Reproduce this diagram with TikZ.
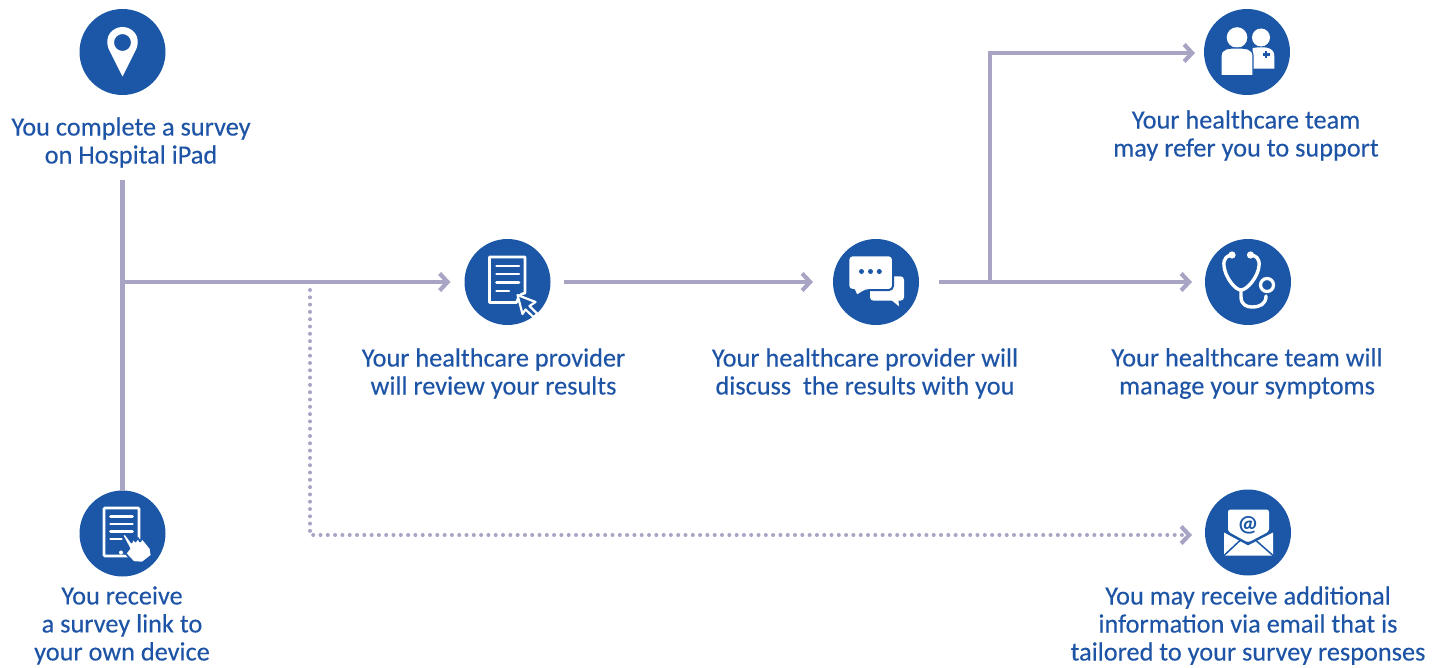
\documentclass[tikz,border=0pt]{standalone}
\usepackage{fontspec}
\setmainfont{Carlito}
\newfontfamily\capfont[FakeBold=0.25]{Carlito}
\usetikzlibrary{arrows.meta}
\definecolor{brandblue}{RGB}{27,87,166}
\definecolor{textblue}{RGB}{30,84,165}
\definecolor{flowgrey}{RGB}{167,164,196}
\tikzset{
  iconbg/.style={circle,fill=brandblue,minimum size=86pt,inner sep=0pt,outer sep=0pt},
  caption/.style={text=textblue,align=center,font=\capfont\fontsize{26.3}{28}\selectfont,inner sep=0pt},
  flow/.style={draw=flowgrey,line width=4.2pt,-{Straight Barb[length=8pt,width=17pt,line width=4.2pt]}},
  plainflow/.style={draw=flowgrey,line width=4.2pt},
  dotflow/.style={draw=flowgrey,line width=4pt,line cap=round,dash pattern=on 0pt off 7.3pt,-{Straight Barb[length=8pt,width=17pt,line width=4.2pt,line cap=butt]}},
  whiteline/.style={draw=white,line width=2.6pt,line cap=round,line join=round},
}
\begin{document}
\begin{tikzpicture}[x=1pt,y=-1pt]
\useasboundingbox (0,0) rectangle (1442,668);
% circles
\node[iconbg] (pin) at (122.5,52) {};
\node[iconbg] (tablet) at (122.5,533.5) {};
\node[iconbg] (doc) at (507.5,282) {};
\node[iconbg] (chat) at (876,282) {};
\node[iconbg] (team) at (1247,52) {};
\node[iconbg] (steth) at (1248,282) {};
\node[iconbg] (mail) at (1248,532.5) {};
% captions
\node[caption] (t1) at (131,142.5) {You complete a survey\\on Hospital iPad};
\node[caption] (t2) at (122,625.5) {You receive\\a survey link to\\your own device};
\node[caption] (t3) at (493.5,373.5) {Your healthcare provider\\will review your results};
\node[caption] (t4) at (865,373.5) {Your healthcare provider will\\discuss\ \ the results with you};
\node[caption] (t5) at (1246,135.5) {Your healthcare team\\may refer you to support};
\node[caption] (t6) at (1247,373.5) {Your healthcare team will\\manage your symptoms};
\node[caption] (t7) at (1248,625.5) {You may receive additional\\information via email that is\\tailored to your survey responses};
% connectors
\coordinate (j1) at (tablet |- doc);
\coordinate (j2) at (310,282);
\coordinate (j3) at (990,282);
\draw[plainflow] (tablet |- t1.south) ++(0,12) -- (tablet.north);
\draw[flow,shorten >=14pt] (j1) -- (doc.west);
\draw[flow,shorten <=13pt,shorten >=20pt] (doc.east) -- (chat.west);
\draw[flow,shorten <=20pt,shorten >=13pt] (chat.east) -- (steth.west);
\draw[flow,shorten >=9pt] (j3) -- ([yshift=-1pt]j3 |- team.west) -- ([yshift=-1pt]team.west);
\draw[dotflow,shorten >=13pt] (j2) ++(0,8) -- ([yshift=-2.5pt]j2 |- mail.west) -- ([yshift=-2.5pt]mail.west);
% pin icon
\begin{scope}[shift={(pin.center)}]
  \fill[white,even odd rule] (0,24.5) -- (-13.8,-3) .. controls (-19,-17) and (-9,-25) .. (0,-25) .. controls (9,-25) and (19,-17) .. (13.8,-3) -- cycle
    (0,-9.5) circle[radius=8.5];
\end{scope}
% tablet icon
\begin{scope}[shift={(tablet.center)}]
  \draw[white,line width=2.6pt,rounded corners=1pt] (-18.5,-25.5) rectangle (16.5,22.5);
  \foreach \yy in {-17,-9.5,-2}{\draw[whiteline] (-12,\yy) -- (10,\yy);}
  \draw[whiteline] (-12,5.5) -- (-1,5.5);
  \fill[white] (-1.5,19) circle[radius=2];
  \fill[white,draw=brandblue,line width=1.6pt,line join=round] (0,2) .. controls (1,-0.5) and (3,0) .. (4,2) -- (9,9) -- (11,5) -- (13,8) -- (15.5,4.5) -- (17.5,8) -- (20,5) -- (28,15) -- (29,22) -- (20,29) -- (11,28.5) -- (3,20) -- (7,15) -- cycle;
\end{scope}
% document icon
\begin{scope}[shift={(doc.center)}]
  \draw[white,line width=2.6pt,line join=round] (-18,-25) -- (17.5,-25) -- (17.5,11) .. controls (12,12) and (11,15) .. (9,20.5) -- (-18,20.5) -- cycle;
  \foreach \yy in {-16,-8,0.5}{\draw[whiteline] (-11,\yy) -- (11.5,\yy);}
  \draw[whiteline] (-11,9) -- (1.5,9);
  \draw[white,fill=brandblue,line width=2.2pt,line join=round] (10,13) -- (28,20) -- (22,24) -- (30,32) -- (26,35) -- (18,27.5) -- (15,32) -- cycle;
\end{scope}
% chat icon
\begin{scope}[shift={(chat.center)}]
  \fill[white,rounded corners=3.5pt] (-6,-5.7) rectangle (28,18.7);
  \fill[white] (14,17) -- (23,24.3) -- (22.3,17) -- cycle;
  \draw[brandblue,fill=white,line width=2pt,line join=round,rounded corners=4pt] (-27.7,-26.7) -- (17,-26.7) -- (17,8) -- (-10,8) [sharp corners] -- (-19.3,14) -- (-22,8) [rounded corners=4pt] -- (-27.7,8) -- cycle;
  \foreach \xx in {-14.5,-5.5,3.3}{\fill[brandblue] (\xx,-10.5) circle[radius=2.5];}
\end{scope}
% team icon
\begin{scope}[shift={(team.center)}]
  \fill[white] (14,-14.5) circle[radius=9];
  \fill[white] (5.5,-4) .. controls (12,-5) and (18,-5) .. (21,-4) .. controls (25,-3) and (27.3,0) .. (27.3,4) -- (27.3,16.7) -- (5.5,16.7) -- cycle;
  \fill[white] (-10,-14.5) circle[radius=10.3];
  \draw[brandblue,fill=white,line width=1.2pt] (-26,23.8) -- (-26,4) .. controls (-26,-4) and (-18,-4) .. (-10,-4) .. controls (-1,-4) and (6,-3.5) .. (6,4) -- (6,23.8) -- cycle;
  \fill[brandblue] (19,2.5) ++(-1.4,-3.5) rectangle ++(2.8,7);
  \fill[brandblue] (19,2.5) ++(-3.5,-1.4) rectangle ++(7,2.8);
\end{scope}
% stethoscope icon
\begin{scope}[shift={(steth.center)}]
  \draw[white,line width=3.4pt,line cap=round,line join=round] (-16,-27) .. controls (-20,-27) and (-25,-24) .. (-24,-16) .. controls (-23,-5) and (-13,8) .. (-7,8) .. controls (-1,8) and (10,-5) .. (11,-16) .. controls (12,-24) and (7,-27) .. (2.5,-27);
  \fill[white] (-16,-27) circle[radius=3.6];
  \fill[white] (2.5,-27) circle[radius=3.6];
  \draw[white,line width=3.4pt,line cap=round,line join=round] (-7,8) -- (-7,15) .. controls (-7,23) and (-1,25) .. (4,25) .. controls (12,25) and (18,22) .. (18,14);
  \draw[white,line width=3.2pt] (19,3) circle[radius=6.5];
\end{scope}
% mail icon
\begin{scope}[shift={(mail.center)}]
  \fill[white,rounded corners=2.5pt] (-20,-23) -- (21,-23) -- (21,-1) -- (0,10) -- (-20,-1) -- cycle;
  \fill[white] (-24,0) -- (0,13) -- (25,0) -- (25,23) -- (-24,23) -- cycle;
  \draw[brandblue,line width=1.5pt,line cap=round] (-24,23) -- (-8,8);
  \draw[brandblue,line width=1.5pt,line cap=round] (25,23) -- (8,8);
  \node[text=brandblue,font=\fontsize{23}{23}\selectfont\bfseries,inner sep=0pt] (at) at (0,-7.5) {@};
\end{scope}
\end{tikzpicture}
\end{document}
